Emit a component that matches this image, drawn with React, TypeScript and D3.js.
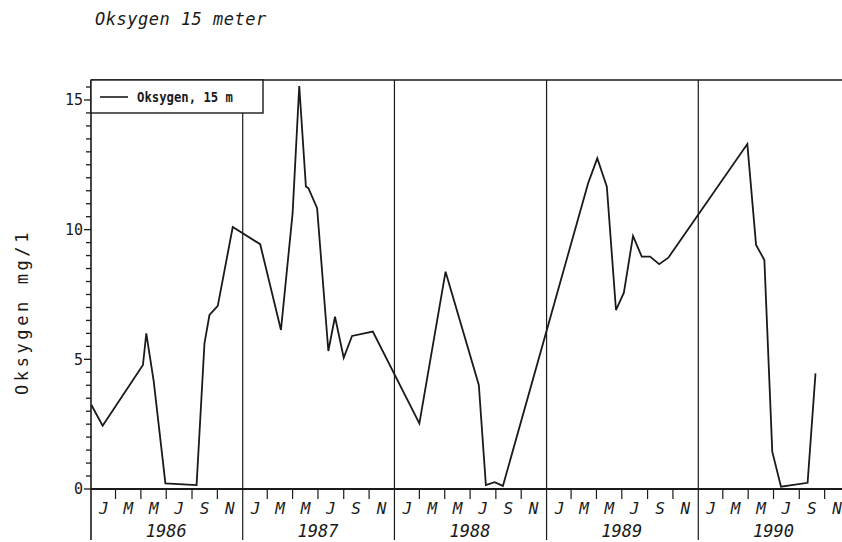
import React from 'react';
import * as d3 from 'd3';

// Oxygen at 15 m, sampling dates and mg/l readings
const sampleDates = [
  "1986-01-02", "1986-01-29", "1986-05-06", "1986-05-14", "1986-06-01", "1986-06-29",
  "1986-09-12", "1986-10-01", "1986-10-13", "1986-11-02", "1986-12-08",
  "1987-02-12", "1987-04-03", "1987-05-01", "1987-05-17", "1987-06-02", "1987-06-08",
  "1987-06-29", "1987-07-26", "1987-08-11", "1987-09-01", "1987-09-21", "1987-11-10",
  "1988-03-01", "1988-05-03", "1988-07-22", "1988-08-08", "1988-08-29", "1988-09-18",
  "1989-04-11", "1989-05-03", "1989-05-26", "1989-06-17", "1989-07-06", "1989-07-28",
  "1989-08-18", "1989-09-07", "1989-09-29", "1989-10-21",
  "1990-04-29", "1990-05-20", "1990-06-09", "1990-06-28", "1990-07-19", "1990-09-21",
  "1990-10-10",
];
const oxygen = [
  3.24, 2.44, 4.78, 6.0, 4.14, 0.22,
  0.15, 5.62, 6.71, 7.06, 10.1,
  9.44, 6.13, 10.63, 15.54, 11.66, 11.6,
  10.83, 5.32, 6.64, 5.06, 5.9, 6.07,
  2.53, 8.38, 4.01, 0.15, 0.26, 0.12,
  11.79, 12.75, 11.66, 6.9, 7.57, 9.76,
  8.96, 8.96, 8.67, 8.92,
  13.3, 9.41, 8.83, 1.44, 0.09, 0.24,
  4.46,
];
const years = [1986, 1987, 1988, 1989, 1990];
const monthLetters = ["J", "M", "M", "J", "S", "N"];
const yLabels = [0, 5, 10, 15];

const W = 842;
const H = 542;
const left = 91;
const right = 850;
const top = 80;
const bottom = 489;
const lineBottom = 540;

const mono = "'DejaVu Sans Mono', monospace";

export default function App() {
  const x = d3.scaleTime()
    .domain([new Date(1986, 0, 1), new Date(1991, 0, 1)])
    .range([left, right]);
  const y = d3.scaleLinear().domain([0, 15.77]).range([bottom, top]);

  const pts = sampleDates.map((d, i) => ({ date: d3.timeParse("%Y-%m-%d")(d) as Date, v: oxygen[i] }));
  const line = d3.line<{ date: Date; v: number }>()
    .x(d => x(d.date))
    .y(d => y(d.v));

  const minorTicks = d3.range(0, 15.51, 0.5);
  const monthTicks: Date[] = [];
  years.forEach(yr => [2, 4, 6, 8, 10].forEach(m => monthTicks.push(new Date(yr, m, 1))));
  const stroke = "#1a1a1a";

  return (
    <svg width={W} height={H} style={{ position: 'absolute', left: 0, top: 0, background: '#fff' }}>
      <text x={95} y={25} fontFamily={mono} fontStyle="italic" fontSize={17} letterSpacing={0.5} fill={stroke}>
        Oksygen 15 meter
      </text>

      {/* frame */}
      <line x1={left} x2={W + 10} y1={top} y2={top} stroke={stroke} strokeWidth={1.6} />
      <line x1={left} x2={W + 10} y1={bottom} y2={bottom} stroke={stroke} strokeWidth={1.8} />
      <line x1={left} x2={left} y1={top} y2={lineBottom} stroke={stroke} strokeWidth={1.6} />
      {years.slice(1).map(yr => {
        const xx = x(new Date(yr, 0, 1));
        return <line key={yr} x1={xx} x2={xx} y1={top} y2={lineBottom} stroke={stroke} strokeWidth={1.2} />;
      })}

      {/* y axis ticks */}
      {minorTicks.map(t => (
        <line key={t} x1={left - (t % 5 === 0 ? 7 : 5)} x2={left} y1={y(t)} y2={y(t)} stroke={stroke} strokeWidth={1.3} />
      ))}
      {yLabels.map(t => (
        <text key={t} x={83} y={y(t)} dy="0.36em" textAnchor="end" fontFamily={mono} fontSize={15} fill={stroke}>
          {t}
        </text>
      ))}
      <text transform={`translate(28,${312}) rotate(-90)`} textAnchor="middle" fontFamily={mono}
        fontSize={17} letterSpacing={3.6} fill={stroke}>
        Oksygen mg/1
      </text>

      {/* x axis ticks and labels */}
      {monthTicks.map((d, i) => (
        <line key={i} x1={x(d)} x2={x(d)} y1={bottom} y2={bottom + 10} stroke={stroke} strokeWidth={1.2} />
      ))}
      {years.map(yr => monthLetters.map((m, k) => (
        <text key={`${yr}-${k}`} x={x(new Date(yr, k * 2 + 1, 1))} y={514} textAnchor="middle"
          fontFamily={mono} fontStyle="italic" fontSize={16} fill={stroke}>
          {m}
        </text>
      )))}
      {years.map(yr => (
        <text key={yr} x={x(new Date(yr, 6, 1))} y={537} textAnchor="middle"
          fontFamily={mono} fontStyle="italic" fontSize={17} fill={stroke}>
          {yr}
        </text>
      ))}

      {/* legend */}
      <rect x={left} y={top} width={172} height={33} fill="#fff" stroke={stroke} strokeWidth={1.4} />
      <line x1={100} x2={128} y1={97} y2={97} stroke={stroke} strokeWidth={1.6} />
      <text x={137} y={102} fontFamily={mono} fontWeight="bold" fontSize={14} textLength={96}
        lengthAdjust="spacingAndGlyphs" fill={stroke}>
        Oksygen, 15 m
      </text>

      {/* data */}
      <path d={line(pts) || ""} fill="none" stroke={stroke} strokeWidth={1.8} strokeLinejoin="miter" />
    </svg>
  );
}
